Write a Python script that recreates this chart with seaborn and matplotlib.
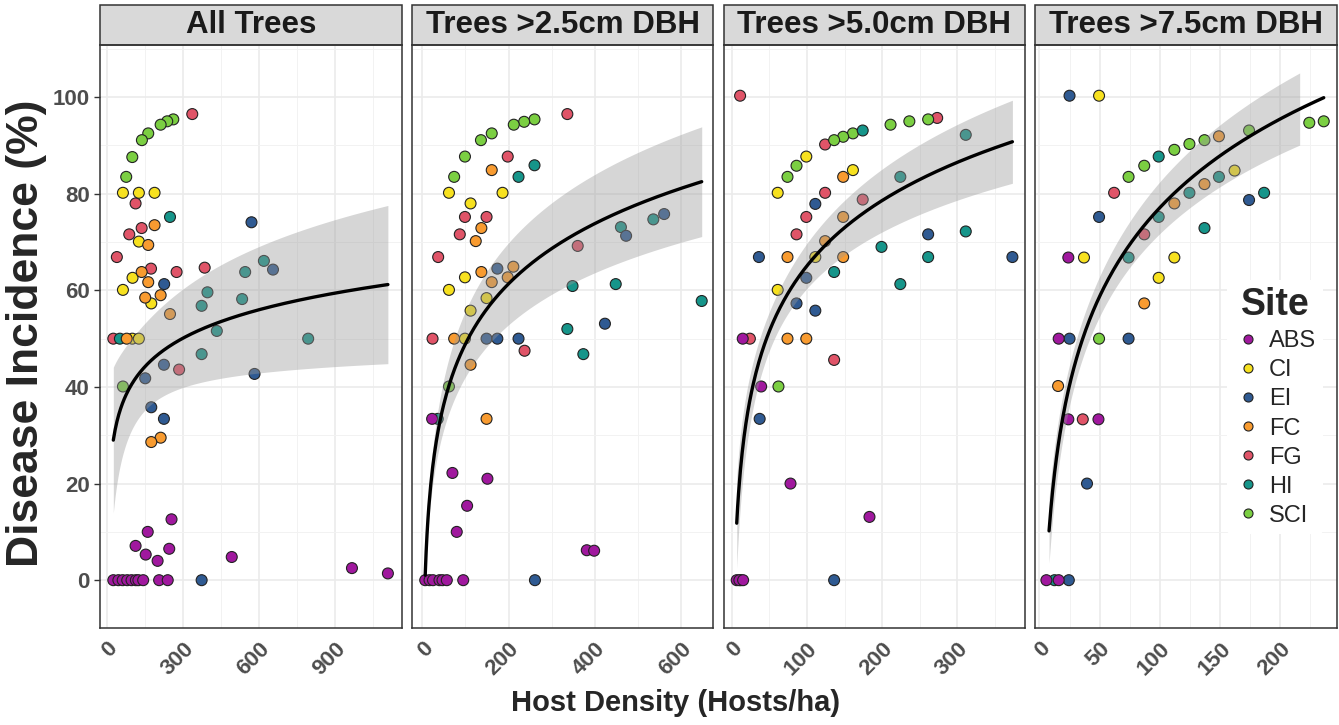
import numpy as np
import pandas as pd
import matplotlib
matplotlib.use("Agg")
import matplotlib.pyplot as plt
from matplotlib import font_manager
from matplotlib.lines import Line2D
from matplotlib.patches import Rectangle
from matplotlib.ticker import MultipleLocator
import seaborn as sns

sites = ["ABS", "CI", "EI", "FC", "FG", "HI", "SCI"]
site_colors = ["#A0189E", "#F7E11F", "#2F5A92", "#F89B30", "#E05468", "#16958A", "#7BCF42"]

panel_titles = ["All Trees", "Trees >2.5cm DBH", "Trees >5.0cm DBH", "Trees >7.5cm DBH"]

# (site, host density, disease incidence)
all_trees = [
    ("FG", 337, 96.5), ("FG", 113, 78.0), ("FG", 137, 72.9), ("FG", 88, 71.6), ("FG", 39, 66.9),
    ("FG", 174, 64.5), ("FG", 275, 63.8), ("FG", 386, 64.7), ("FG", 25, 50), ("FG", 285, 43.6),
    ("SCI", 262, 95.4), ("SCI", 238, 95.0), ("SCI", 212, 94.3), ("SCI", 163, 92.5), ("SCI", 138, 91.1),
    ("SCI", 100, 87.6), ("SCI", 76, 83.5), ("SCI", 63, 40.1),
    ("CI", 63, 80.2), ("CI", 126, 80.2), ("CI", 188, 80.2), ("CI", 126, 70.1), ("CI", 101, 62.6),
    ("CI", 63, 60.1), ("CI", 175, 57.3), ("CI", 100, 50), ("CI", 126, 50),
    ("HI", 249, 75.2), ("HI", 620, 66.1), ("HI", 546, 63.8), ("HI", 397, 59.6), ("HI", 534, 58.2),
    ("HI", 374, 56.8), ("HI", 434, 51.6), ("HI", 51, 50), ("HI", 795, 50), ("HI", 374, 46.8),
    ("EI", 571, 74.1), ("EI", 656, 64.3), ("EI", 226, 61.3), ("EI", 225, 44.6), ("EI", 151, 41.8),
    ("EI", 583, 42.7), ("EI", 175, 35.8), ("EI", 225, 33.4), ("EI", 374, 0),
    ("FC", 188, 73.5), ("FC", 163, 69.4), ("FC", 137, 63.8), ("FC", 163, 61.7), ("FC", 151, 58.5),
    ("FC", 212, 59.0), ("FC", 249, 55.1), ("FC", 78, 50), ("FC", 212, 29.5), ("FC", 175, 28.6),
    ("ABS", 255, 12.6), ("ABS", 161, 10.0), ("ABS", 113, 7.1), ("ABS", 153, 5.3), ("ABS", 246, 6.5),
    ("ABS", 200, 4.0), ("ABS", 493, 4.8), ("ABS", 968, 2.5), ("ABS", 1110, 1.4),
    ("ABS", 25, 0), ("ABS", 45, 0), ("ABS", 62, 0), ("ABS", 80, 0), ("ABS", 97, 0),
    ("ABS", 114, 0), ("ABS", 124, 0), ("ABS", 143, 0), ("ABS", 206, 0), ("ABS", 240, 0),
]

dbh_25 = [
    ("FG", 336, 96.5), ("FG", 198, 87.7), ("FG", 99, 75.2), ("FG", 149, 75.2), ("FG", 87, 71.6),
    ("FG", 360, 69.2), ("FG", 37, 66.9), ("FG", 24, 50), ("FG", 237, 47.5),
    ("SCI", 260, 95.4), ("SCI", 236, 94.9), ("SCI", 212, 94.3), ("SCI", 161, 92.5), ("SCI", 136, 91.1),
    ("SCI", 99, 87.7), ("SCI", 74, 83.5), ("SCI", 62, 40.1),
    ("HI", 260, 85.9), ("HI", 223, 83.5), ("HI", 460, 73.1), ("HI", 535, 74.7), ("HI", 348, 60.9),
    ("HI", 448, 61.3), ("HI", 647, 57.8), ("HI", 336, 52.0), ("HI", 373, 46.8), ("HI", 36, 33.4),
    ("FC", 161, 84.9), ("FC", 137, 72.9), ("FC", 124, 70.2), ("FC", 211, 64.9), ("FC", 137, 63.8),
    ("FC", 161, 61.7), ("FC", 198, 62.7), ("FC", 74, 50), ("FC", 112, 44.6), ("FC", 149, 33.4),
    ("CI", 62, 80.2), ("CI", 186, 80.2), ("CI", 112, 78.0), ("CI", 99, 62.7), ("CI", 62, 60.1),
    ("CI", 149, 58.4), ("CI", 112, 55.8), ("CI", 99, 50),
    ("EI", 560, 75.8), ("EI", 472, 71.3), ("EI", 174, 64.5), ("EI", 423, 53.1), ("EI", 149, 50),
    ("EI", 174, 50), ("EI", 223, 50), ("EI", 261, 0),
    ("ABS", 23, 33.4), ("ABS", 70, 22.2), ("ABS", 151, 21.0), ("ABS", 104, 15.4), ("ABS", 80, 10.0),
    ("ABS", 381, 6.2), ("ABS", 398, 6.1),
    ("ABS", 7, 0), ("ABS", 17, 0), ("ABS", 25, 0), ("ABS", 40, 0), ("ABS", 47, 0), ("ABS", 57, 0),
    ("ABS", 95, 0),
]

dbh_50 = [
    ("FG", 11, 100.3), ("FG", 273, 95.7), ("FG", 124, 90.2), ("FG", 124, 80.2), ("FG", 174, 78.8),
    ("FG", 99, 75.2), ("FG", 86, 71.6), ("FG", 24, 50), ("FG", 136, 45.6),
    ("SCI", 261, 95.4), ("SCI", 236, 95.0), ("SCI", 211, 94.3), ("SCI", 161, 92.5), ("SCI", 148, 91.8),
    ("SCI", 136, 91.1), ("SCI", 86, 85.8), ("SCI", 74, 83.5), ("SCI", 62, 40.1),
    ("HI", 174, 93.1), ("HI", 311, 92.2), ("HI", 224, 83.5), ("HI", 311, 72.2), ("HI", 199, 69.0),
    ("HI", 261, 66.9), ("HI", 136, 63.8), ("HI", 224, 61.3), ("HI", 12, 0),
    ("CI", 99, 87.7), ("CI", 161, 84.9), ("CI", 61, 80.2), ("CI", 111, 66.9), ("CI", 61, 60.1),
    ("FC", 148, 83.5), ("FC", 148, 75.2), ("FC", 124, 70.2), ("FC", 74, 66.9), ("FC", 148, 66.9),
    ("FC", 74, 50), ("FC", 99, 50),
    ("EI", 111, 77.9), ("EI", 261, 71.6), ("EI", 36, 66.9), ("EI", 373, 66.9), ("EI", 99, 62.6),
    ("EI", 86, 57.3), ("EI", 111, 55.8), ("EI", 37, 33.4), ("EI", 136, 0),
    ("ABS", 14.5, 50), ("ABS", 39, 40.1), ("ABS", 78, 20.0), ("ABS", 183, 13.1),
    ("ABS", 6.5, 0), ("ABS", 10, 0), ("ABS", 15, 0),
]

dbh_75 = [
    ("EI", 25, 100.3), ("EI", 174, 78.7), ("EI", 49.5, 75.2), ("EI", 25, 50), ("EI", 74, 50),
    ("EI", 39.5, 20), ("EI", 24.4, 0),
    ("CI", 49.5, 100.3), ("CI", 162, 84.8), ("CI", 37, 66.8), ("CI", 112, 66.8), ("CI", 99, 62.6),
    ("SCI", 224, 94.7), ("SCI", 236, 95.0), ("SCI", 174, 93.1), ("SCI", 137, 91.1), ("SCI", 124.5, 90.3),
    ("SCI", 112, 89.1), ("SCI", 87, 85.8), ("SCI", 74, 83.5), ("SCI", 49.5, 50),
    ("FC", 149, 91.9), ("FC", 137, 82.0), ("FC", 112, 78.0), ("FC", 87, 57.3), ("FC", 15.5, 40.2),
    ("HI", 99, 87.7), ("HI", 149, 83.5), ("HI", 124.5, 80.2), ("HI", 186.5, 80.2), ("HI", 99, 75.2),
    ("HI", 137, 72.9), ("HI", 74, 66.8), ("HI", 12.5, 0),
    ("FG", 62, 80.2), ("FG", 87, 71.6), ("FG", 36, 33.3),
    ("ABS", 24, 66.8), ("ABS", 16, 50), ("ABS", 24, 33.3), ("ABS", 49, 33.3),
    ("ABS", 5.8, 0), ("ABS", 16, 0),
]

# fitted curve y = a + b*ln(x), and its confidence band
fit_a = [1.67, -34.0, -24.7, -44.9]
fit_b = [8.49, 18.0, 19.5, 26.5]
fit_xmin = [25, 7, 6.5, 8]
fit_xmax = [1110, 647, 373, 236]
band_xmax = [1110, 647, 373, 216]
band_mid = [5.0, 2.0, 4.0, 3.6]
band_h0 = [9.0, 2.0, 4.0, 4.0]
band_k = [6.8, 2.5, 3.96, 3.55]

x_lims = [(-27.6, 1164), (-24, 674), (-10.9, 390), (-3.3, 247)]
x_steps = [300, 200, 100, 50]

sns.set_style("white")
plt.rcParams["font.family"] = ["Liberation Sans", "DejaVu Sans"]

# the x title in the original is set in a condensed face
installed = {f.name for f in font_manager.fontManager.ttflist}
if "Liberation Sans Narrow" in installed:
    xtitle_font, xtitle_size = ["Liberation Sans Narrow", "Liberation Sans"], 26
else:
    xtitle_font, xtitle_size = ["Liberation Sans", "DejaVu Sans"], 21

palette = dict(zip(sites, site_colors))
panels = [all_trees, dbh_25, dbh_50, dbh_75]

fig, axes = plt.subplots(1, 4, figsize=(13.39, 7.25), dpi=100, sharey=True)
fig.subplots_adjust(left=100 / 1339, right=1337 / 1339, bottom=1 - 628 / 725,
                    top=1 - 45 / 725, wspace=0.034)

for i, ax in enumerate(axes):
    df = pd.DataFrame(panels[i], columns=["site", "density", "incidence"])
    sns.scatterplot(data=df, x="density", y="incidence", hue="site", hue_order=sites,
                    palette=palette, s=62, edgecolor="#222222", linewidth=0.8,
                    legend=False, ax=ax, zorder=2)

    xs = np.linspace(fit_xmin[i], fit_xmax[i], 300)
    ys = fit_a[i] + fit_b[i] * np.log(xs)
    xb = np.linspace(fit_xmin[i], band_xmax[i], 300)
    yb = fit_a[i] + fit_b[i] * np.log(xb)
    half = np.sqrt(band_h0[i] ** 2 + (band_k[i] * (np.log(xb) - band_mid[i])) ** 2)
    ax.fill_between(xb, yb - half, yb + half, color="#999999", alpha=0.4, lw=0, zorder=3)
    sns.lineplot(x=xs, y=ys, color="black", lw=2.4, ax=ax, zorder=4)

    ax.set_xlim(*x_lims[i])
    ax.set_ylim(-9.9, 110.8)
    ax.xaxis.set_major_locator(MultipleLocator(x_steps[i]))
    ax.xaxis.set_minor_locator(MultipleLocator(x_steps[i] / 2))
    ax.yaxis.set_major_locator(MultipleLocator(20))
    ax.yaxis.set_minor_locator(MultipleLocator(10))
    ax.set_xticks([t for t in ax.get_xticks() if 0 <= t <= x_lims[i][1]])
    ax.grid(which="major", color="#EBEBEB", lw=1.2)
    ax.grid(which="minor", color="#F2F2F2", lw=0.7)
    ax.set_axisbelow(True)
    for sp in ax.spines.values():
        sp.set_color("#333333")
        sp.set_linewidth(1.1)
    ax.tick_params(which="major", length=4, width=1, color="#333333",
                   labelsize=16, labelcolor="#4D4D4D")
    ax.tick_params(which="minor", length=0)
    ax.tick_params(axis="y", left=(i == 0))
    for lab in ax.get_xticklabels() + ax.get_yticklabels():
        lab.set_fontweight("bold")
    for lab in ax.get_xticklabels():
        lab.set_rotation(45)
        lab.set_ha("right")
        lab.set_rotation_mode("anchor")
    ax.set_xlabel("")
    ax.set_ylabel("")

    # facet strip
    strip_h = 40.3 / 583
    ax.add_patch(Rectangle((0, 1), 1, strip_h, transform=ax.transAxes, clip_on=False,
                           facecolor="#D9D9D9", edgecolor="#333333", lw=1.1))
    ax.text(0.5, 1 + strip_h / 2, panel_titles[i], transform=ax.transAxes, ha="center",
            va="center", fontsize=22.5, fontweight="bold", color="#1A1A1A")

fig.text(27 / 1339, 1 - 333 / 725, "Disease Incidence (%)", rotation=90, ha="center",
         va="center", fontsize=32, fontweight="bold")
fig.text(676 / 1339, 1 - 703 / 725, "Host Density (Hosts/ha)", ha="center", va="center",
         fontsize=xtitle_size, fontweight="bold", family=xtitle_font)

handles = [Line2D([], [], marker="o", ls="", markersize=6.5, markerfacecolor=c,
                  markeredgecolor="#222222", markeredgewidth=0.8) for c in site_colors]
leg = axes[3].legend(handles, sites, title="Site", loc="upper left",
                     bbox_to_anchor=(0.595, 0.617), frameon=True, fontsize=17,
                     title_fontproperties={"weight": "bold", "size": 27},
                     labelspacing=0.3, handletextpad=0.3, borderpad=0.3,
                     handlelength=1.2)
leg.get_frame().set_facecolor("white")
leg.get_frame().set_edgecolor("none")
leg.get_frame().set_alpha(1)

fig.savefig("out.png", dpi=100)
